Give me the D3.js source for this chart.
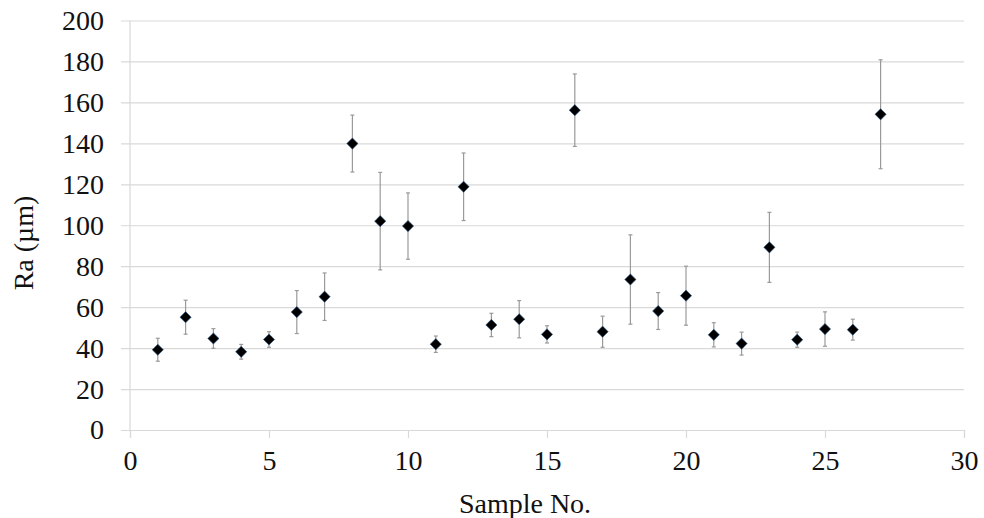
<!DOCTYPE html>
<html>
<head>
<meta charset="utf-8">
<script src="https://cdn.jsdelivr.net/npm/d3@7"></script>
<style>
  html, body { margin: 0; padding: 0; background: #fff; }
  svg { display: block; }
</style>
</head>
<body>
<div id="chart"></div>
<script>
// sample numbers, Ra mean and standard deviation (µm)
let samples = [1, 2, 3, 4, 5, 6, 7, 8, 9, 10, 11, 12, 13, 14, 15, 16, 17, 18, 19, 20, 21, 22, 23, 24, 25, 26, 27];
let raMean = [39.2, 55.1, 44.7, 38.2, 44.2, 57.6, 65.1, 139.9, 102.0, 99.6, 41.9, 118.8, 51.3, 54.1, 46.7, 156.2, 48.0, 73.5, 58.1, 65.6, 46.5, 42.2, 89.2, 44.1, 49.3, 49.0, 154.2];
let raErr = [5.6, 8.3, 4.8, 3.6, 3.8, 10.5, 11.6, 13.9, 23.8, 16.2, 4.0, 16.5, 5.7, 9.1, 4.2, 17.7, 7.6, 21.8, 9.0, 14.4, 5.9, 5.6, 17.1, 3.7, 8.4, 5.1, 26.6];
let xTicks = [0, 5, 10, 15, 20, 25, 30];
let yTicks = [0, 20, 40, 60, 80, 100, 120, 140, 160, 180, 200];

let width = 984, height = 518;
let margin = {left: 130, right: 20, top: 20.5, bottom: 88};
let serif = 'Liberation Serif, Tinos, Times New Roman, DejaVu Serif, serif';

let x = d3.scaleLinear().domain([0, 30]).range([margin.left, width - margin.right]);
let y = d3.scaleLinear().domain([0, 200]).range([height - margin.bottom, margin.top]);

let svg = d3.select('#chart').append('svg')
    .attr('width', width)
    .attr('height', height)
    .style('font-family', serif);

// horizontal gridlines + y labels
let yAxis = svg.append('g')
    .attr('transform', `translate(${x(30)},0)`)
    .call(d3.axisLeft(y).tickValues(yTicks).tickSize(x(30) - x(0) + 9).tickFormat(d3.format('d')))
    .attr('font-family', null);
yAxis.select('.domain').remove();
yAxis.selectAll('.tick line').attr('stroke', '#d9d9d9').attr('stroke-width', 1.2);
yAxis.selectAll('.tick text')
    .attr('x', -(x(30) - x(0)) - 26)
    .attr('fill', '#111')
    .style('font-size', '28px');

// x axis
let xAxis = svg.append('g')
    .attr('transform', `translate(0,${y(0)})`)
    .call(d3.axisBottom(x).tickValues(xTicks).tickSize(8).tickPadding(12).tickFormat(d3.format('d')))
    .attr('font-family', null);
xAxis.select('.domain').attr('stroke', '#d9d9d9').attr('stroke-width', 1.2);
xAxis.selectAll('.tick line').attr('stroke', '#d9d9d9').attr('stroke-width', 1.2);
xAxis.selectAll('.tick text').attr('fill', '#111').style('font-size', '28px');

// vertical axis line
svg.append('line')
    .attr('x1', x(0)).attr('x2', x(0))
    .attr('y1', y(200)).attr('y2', y(0))
    .attr('stroke', '#d9d9d9')
    .attr('stroke-width', 1.2);

// error bars
let bars = svg.append('g').attr('stroke', '#9a9a9a').attr('stroke-width', 1.2);
samples.forEach((s, i) => {
    let cx = x(s);
    let top = y(raMean[i] + raErr[i]);
    let bot = y(raMean[i] - raErr[i]);
    bars.append('line').attr('x1', cx).attr('x2', cx).attr('y1', top).attr('y2', bot);
    bars.append('line').attr('x1', cx - 2).attr('x2', cx + 2).attr('y1', top).attr('y2', top);
    bars.append('line').attr('x1', cx - 2).attr('x2', cx + 2).attr('y1', bot).attr('y2', bot);
});

// diamond markers
let diamond = d3.symbol().type(d3.symbolDiamond2).size(80);
svg.append('g').selectAll('path')
    .data(samples)
    .join('path')
    .attr('d', diamond)
    .attr('transform', (d, i) => `translate(${x(d)},${y(raMean[i])})`)
    .attr('fill', '#000')
    .attr('stroke', '#2c5a8c')
    .attr('stroke-width', 0.6);

// axis titles
svg.append('text')
    .attr('x', 525)
    .attr('y', 513)
    .attr('text-anchor', 'middle')
    .style('font-size', '28px')
    .attr('fill', '#111')
    .text('Sample No.');

svg.append('text')
    .attr('transform', 'translate(33,243) rotate(-90)')
    .attr('text-anchor', 'middle')
    .style('font-size', '28px')
    .attr('fill', '#111')
    .text('Ra (µm)');
</script>
</body>
</html>
